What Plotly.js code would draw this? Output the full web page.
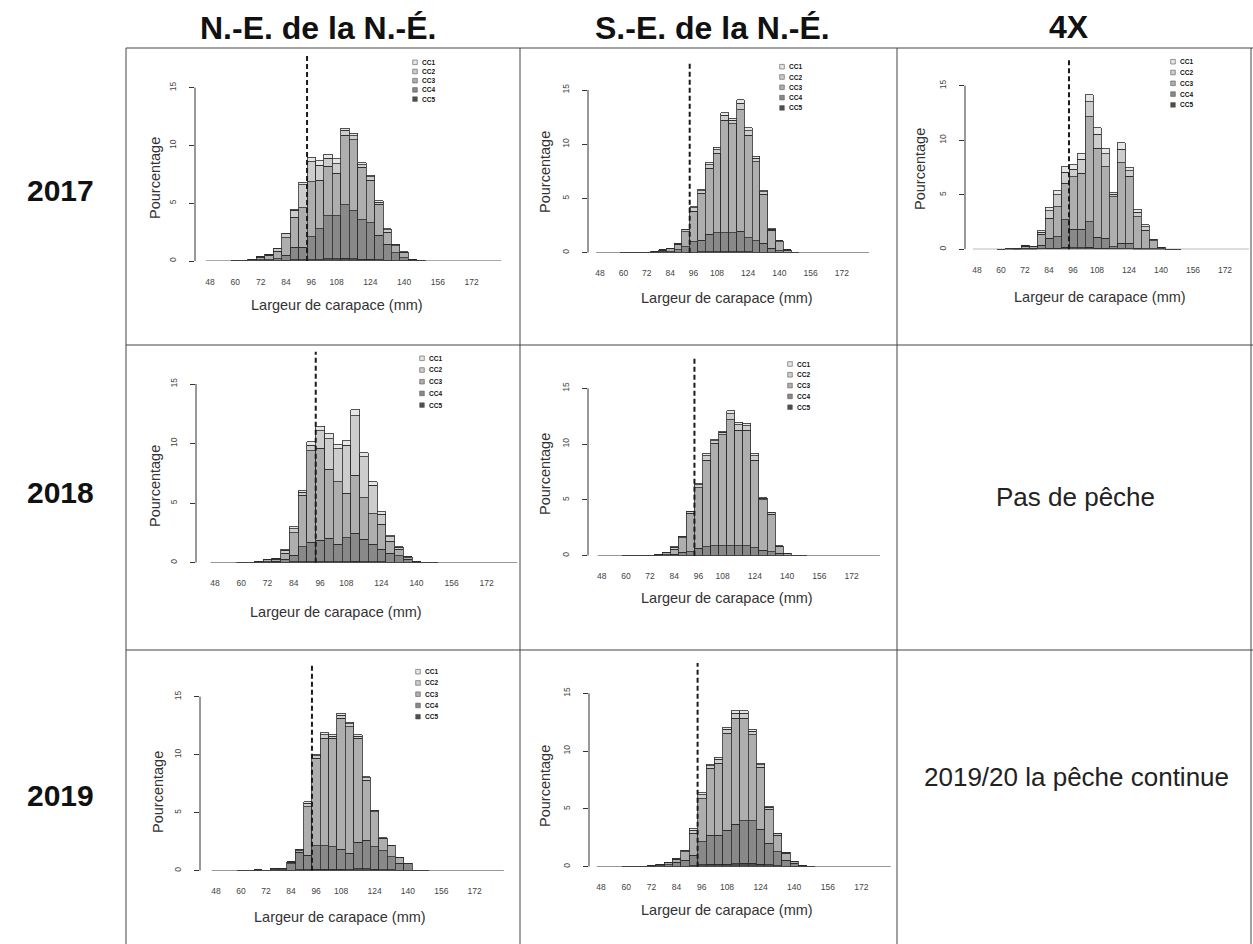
<!DOCTYPE html>
<html><head><meta charset="utf-8">
<script src="https://cdn.plot.ly/plotly-3.0.1.min.js"></script>
<style>html,body{margin:0;padding:0;background:#fff;} #chart{width:1253px;height:944px;}</style>
</head><body><div id="chart"></div>
<script>
// ---------- DATA ----------
// carapace width size classes (bin midpoints, mm) that carry bars
const sizes = [60,64,68,72,76,80,84,88,92,96,100,104,108,112,116,120,124,128,132,136,140,144,148];
// first and last size class of every histogram (empty classes drawn as a flat line)
const sizeRange = [48, 184];
const binWidth = 4;
const mlsLine = 94;          // dashed line (legal size boundary between classes)
const xTickLabels = [48,60,72,84,96,108,124,140,156,172];
const yTicks = [0,5,10,15];
const classNames = ['CC1','CC2','CC3','CC4','CC5'];
const classColors = ['#E6E6E6','#CDCDCD','#AEAEAE','#898989','#4D4D4D'];
const columnTitles = ['N.-E. de la N.-É.','S.-E. de la N.-É.','4X'];
const rowTitles = ['2017','2018','2019'];
const xTitle = 'Largeur de carapace (mm)';
const yTitle = 'Pourcentage';
const note2018 = 'Pas de pêche';
const note2019 = '2019/20 la pêche continue';

// N.-E. de la N.-É. 2017
const ne2017_cc1 = [0,0,0,0,0,0.02,0.05,0.1,0.2,0.37,0.38,0.36,0.4,0.2,0.2,0.15,0.15,0.1,0.1,0.05,0.03,0,0];
const ne2017_cc2 = [0.01,0.01,0.02,0.05,0.08,0.23,0.35,0.6,2.0,1.74,1.3,0.7,0.83,0.4,0.35,0.25,0.29,0.2,0.2,0.12,0.07,0.02,0];
const ne2017_cc3 = [0.03,0.05,0.1,0.23,0.38,0.65,1.5,2.6,3.4,4.75,4.2,4.3,3.7,6.05,6.14,4.55,3.7,2.65,1.03,0.58,0.4,0.08,0.05];
const ne2017_cc4 = [0.01,0.02,0.03,0.08,0.1,0.18,0.45,1.1,1.1,2.0,2.7,3.7,3.7,4.6,4.16,3.4,3.15,2.15,1.4,0.68,0.28,0.05,0.03];
const ne2017_cc5 = [0,0,0,0.02,0.02,0.02,0.05,0.1,0.1,0.1,0.1,0.2,0.2,0.25,0.2,0.15,0.15,0.1,0.07,0.04,0.02,0,0];
// S.-E. de la N.-É. 2017
const se2017_cc1 = [0,0,0,0,0,0,0,0.02,0.05,0.1,0.12,0.17,0.2,0.25,0.2,0.3,0.25,0.2,0.1,0.05,0.02,0,0];
const se2017_cc2 = [0,0,0,0,0.01,0.02,0.04,0.08,0.2,0.3,0.25,0.35,0.34,0.45,0.3,0.6,0.4,0.3,0.2,0.1,0.06,0.02,0];
const se2017_cc3 = [0,0,0.02,0.03,0.07,0.15,0.25,0.5,1.38,2.84,4.3,6.06,7.31,10.35,10.05,11.2,9.47,7.32,4.54,1.65,0.82,0.18,0.04];
const se2017_cc4 = [0,0,0.01,0.02,0.04,0.07,0.1,0.24,0.5,0.95,1.1,1.62,1.75,1.75,1.75,1.9,1.3,1.02,0.81,0.37,0.18,0.05,0.01];
const se2017_cc5 = [0,0,0,0,0,0.01,0.01,0.02,0.05,0.05,0.07,0.1,0.1,0.1,0.1,0.1,0.08,0.06,0.05,0.03,0.02,0,0];
// 4X 2017
const x4_2017_cc1 = [0,0,0,0,0,0.1,0.3,0.4,0.5,0.4,0.5,0.6,0.6,0.5,0.15,0.6,0.3,0.25,0.15,0.05,0,0,0];
const x4_2017_cc2 = [0,0,0,0.05,0.05,0.2,0.71,1.08,1.03,0.67,1.27,1.39,1.29,1.18,0.24,1.24,0.5,0.42,0.31,0.1,0.03,0,0];
const x4_2017_cc3 = [0,0.05,0.02,0.2,0.15,1.0,1.84,2.74,3.35,4.83,5.14,9.62,8.16,6.58,4.58,7.39,6.17,2.9,1.7,0.72,0.1,0,0];
const x4_2017_cc4 = [0,0.05,0.02,0.08,0.08,0.33,0.9,1.06,2.5,1.7,1.7,2.34,1.0,0.92,0.22,0.5,0.5,0.1,0.07,0.05,0.05,0,0];
const x4_2017_cc5 = [0,0,0,0.02,0.02,0.05,0.1,0.1,0.2,0.13,0.13,0.2,0.1,0.08,0.03,0.05,0.05,0,0,0,0,0,0];
// N.-E. de la N.-É. 2018
const ne2018_cc1 = [0,0,0,0,0,0.1,0.15,0.12,0.3,0.4,0.45,0.4,0.4,0.5,0.35,0.3,0.2,0.1,0.05,0.02,0,0,0];
const ne2018_cc2 = [0,0,0.02,0.03,0.05,0.27,0.35,0.25,0.48,1.47,2.55,2.76,4.02,4.96,3.43,2.41,0.86,0.35,0.15,0.05,0.01,0,0];
const ne2018_cc3 = [0.03,0.03,0.05,0.15,0.2,0.5,1.88,4.34,7.68,7.7,5.82,5.26,3.72,4.9,3.5,2.55,2.07,1.04,0.56,0.15,0.03,0,0];
const ne2018_cc4 = [0.02,0.02,0.03,0.08,0.09,0.25,0.58,1.24,1.6,1.8,1.94,1.44,2.0,2.33,1.86,1.44,1.08,0.73,0.55,0.26,0.04,0,0];
const ne2018_cc5 = [0,0,0,0.02,0.02,0.03,0.06,0.1,0.1,0.1,0.1,0.1,0.1,0.13,0.1,0.1,0.07,0.05,0.04,0.02,0,0,0];
// S.-E. de la N.-É. 2018
const se2018_cc1 = [0,0,0,0,0,0,0.05,0.05,0.08,0.13,0.2,0.12,0.12,0.27,0.23,0.2,0.2,0.07,0.05,0.02,0,0,0];
const se2018_cc2 = [0,0,0,0,0.01,0.02,0.15,0.11,0.12,0.25,0.4,0.24,0.23,0.54,0.46,0.4,0.4,0.13,0.1,0.05,0.02,0,0];
const se2018_cc3 = [0,0,0,0.02,0.07,0.2,0.45,1.3,3.44,5.44,7.77,9.2,9.95,11.29,10.39,10.36,7.85,4.5,3.37,0.6,0.14,0.03,0];
const se2018_cc4 = [0,0,0,0.01,0.04,0.07,0.14,0.28,0.33,0.62,0.75,0.82,0.82,0.82,0.82,0.85,0.68,0.47,0.33,0.18,0.04,0.02,0];
const se2018_cc5 = [0,0,0,0,0,0.01,0.01,0.02,0.03,0.04,0.05,0.05,0.05,0.05,0.05,0.05,0.04,0.03,0.03,0.02,0,0,0];
// N.-E. de la N.-É. 2019
const ne2019_cc1 = [0,0,0,0,0,0,0,0.05,0.15,0.13,0.17,0.1,0.14,0.13,0.1,0.1,0.05,0.03,0.02,0,0,0,0];
const ne2019_cc2 = [0,0,0,0,0.02,0.02,0.03,0.1,0.3,0.25,0.33,0.2,0.29,0.25,0.2,0.2,0.1,0.06,0.04,0.02,0,0,0];
const ne2019_cc3 = [0,0,0.05,0.03,0.08,0.08,0.15,0.12,4.15,7.55,9.27,9.33,11.26,10.92,8.96,5.16,3.01,1.05,0.95,0.48,0.03,0,0];
const ne2019_cc4 = [0,0,0.05,0.02,0.08,0.08,0.55,1.5,1.25,2.0,2.0,1.95,1.75,1.39,2.29,2.49,1.95,1.6,1.12,0.6,0.55,0,0];
const ne2019_cc5 = [0,0,0,0,0.02,0.02,0.05,0.1,0.1,0.13,0.13,0.12,0.12,0.1,0.15,0.15,0.12,0.1,0.08,0.05,0.05,0,0];
// S.-E. de la N.-É. 2019
const se2019_cc1 = [0,0,0,0,0,0,0.02,0.04,0.15,0.17,0.13,0.17,0.17,0.21,0.21,0.17,0.12,0.1,0.05,0.02,0.01,0,0];
const se2019_cc2 = [0,0,0,0.01,0.02,0.04,0.05,0.1,0.29,0.33,0.25,0.35,0.35,0.42,0.42,0.33,0.22,0.2,0.1,0.05,0.02,0,0];
const se2019_cc3 = [0,0.02,0.03,0.04,0.1,0.18,0.25,0.72,1.88,3.74,5.76,6.2,8.37,9.15,8.86,7.42,5.34,2.93,1.43,0.59,0.16,0.04,0];
const se2019_cc4 = [0,0.01,0.02,0.03,0.07,0.13,0.37,0.53,0.92,2.0,2.54,2.54,2.95,3.44,3.7,3.7,3.03,1.87,1.2,0.53,0.28,0.04,0];
const se2019_cc5 = [0,0,0,0,0.01,0.02,0.03,0.05,0.08,0.16,0.2,0.2,0.22,0.25,0.28,0.28,0.23,0.15,0.1,0.05,0.02,0,0];

// ---------- LAYOUT (pixel geometry of each panel) ----------
const W = 1253, H = 944;
const panels = [
  {cls:[ne2017_cc1,ne2017_cc2,ne2017_cc3,ne2017_cc4,ne2017_cc5], axisPx:195, p48:210, s:2.11, y0:261, y15:87.7, top:55, xt:[337,305], yt:[155,178], leg:[415,62.3,9.2]},
  {cls:[se2017_cc1,se2017_cc2,se2017_cc3,se2017_cc4,se2017_cc5], axisPx:588, p48:600, s:1.95, y0:252.7, y15:90, top:61.7, xt:[727,298], yt:[545,172], leg:[782,66.7,10.3]},
  {cls:[x4_2017_cc1,x4_2017_cc2,x4_2017_cc3,x4_2017_cc4,x4_2017_cc5], axisPx:965, p48:977, s:2.0, y0:249.3, y15:85.7, top:58, xt:[1100,296.7], yt:[920,169], leg:[1173,61.7,10.8]},
  {cls:[ne2018_cc1,ne2018_cc2,ne2018_cc3,ne2018_cc4,ne2018_cc5], axisPx:196, p48:215, s:2.19, y0:562.7, y15:384, top:351.7, xt:[336,611.7], yt:[155,486], leg:[422,358.3,11.7]},
  {cls:[se2018_cc1,se2018_cc2,se2018_cc3,se2018_cc4,se2018_cc5], axisPx:588, p48:601.7, s:2.016, y0:555.7, y15:388.3, top:358, xt:[727,598], yt:[545,474], leg:[790,364,10.8]},
  {cls:[ne2019_cc1,ne2019_cc2,ne2019_cc3,ne2019_cc4,ne2019_cc5], axisPx:200, p48:216, s:2.086, y0:870.7, y15:696.7, top:665, xt:[340,916.7], yt:[158,792], leg:[418,671.7,11.25]},
  {cls:[se2019_cc1,se2019_cc2,se2019_cc3,se2019_cc4,se2019_cc5], axisPx:589, p48:601, s:2.1, y0:866.7, y15:693.3, top:663, xt:[727,910], yt:[545,786], leg:null}
];
const gridCols = [126, 520, 897, 1251];
const gridRows = [48, 345, 650];
const colTitlePos = [[318,28],[712,28],[1069,27]];
const rowTitlePos = [[60,191],[60,492],[60,795]];

const FONT = 'Liberation Sans, Arial, sans-serif';
const px = v => v / W, py = v => 1 - v / H;

const traces = [], shapes = [], annotations = [];
const layout = {
  width: W, height: H, margin: {l:0, r:0, t:0, b:0},
  paper_bgcolor: '#fff', plot_bgcolor: 'rgba(0,0,0,0)',
  barmode: 'stack', bargap: 0, showlegend: false, hovermode: false,
  font: {family: FONT, color: '#222'}
};

panels.forEach((p, i) => {
  const n = i === 0 ? '' : String(i + 1);
  const xa = 'x' + n, ya = 'y' + n;
  const rightPx = Math.min(p.p48 + 140 * p.s, 1249);
  const xr0 = 48 - (p.p48 - p.axisPx) / p.s;
  const xr1 = 48 + (rightPx - p.p48) / p.s;
  const ytop = 15 * (p.y0 - p.top) / (p.y0 - p.y15);
  layout['xaxis' + n] = {
    domain: [p.axisPx / W, rightPx / W], range: [xr0, xr1], anchor: ya,
    showgrid: false, zeroline: false, showline: false, ticks: '',
    tickmode: 'array', tickvals: xTickLabels, ticktext: xTickLabels.map(String),
    tickfont: {size: 8.5, color: '#444', family: FONT}, ticklabelstandoff: 14, fixedrange: true
  };
  layout['yaxis' + n] = {
    domain: [1 - p.y0 / H, 1 - p.top / H], range: [0, ytop], anchor: xa,
    showgrid: false, zeroline: false, showline: false,
    ticks: 'outside', ticklen: 5, tickwidth: 1, tickcolor: '#333',
    tickmode: 'array', tickvals: yTicks, ticktext: yTicks.map(String), tickangle: -90,
    tickfont: {size: 8.5, color: '#444', family: FONT}, ticklabelstandoff: 10, fixedrange: true
  };
  // empty size classes drawn as flat baseline
  traces.push({type: 'scatter', mode: 'lines', x: [sizeRange[0] - binWidth / 2, sizeRange[1] + binWidth / 2], y: [0, 0],
    line: {color: '#555', width: 1}, xaxis: xa, yaxis: ya, hoverinfo: 'skip'});
  // stacked classes, CC5 at the bottom, CC1 on top
  for (let k = 4; k >= 0; k--) {
    traces.push({type: 'bar', name: classNames[k], x: sizes, y: p.cls[k], xaxis: xa, yaxis: ya,
      marker: {color: classColors[k], line: {color: '#2a2a2a', width: 0.8}}});
  }
  // y axis line (0 to 15 only, R style)
  shapes.push({type: 'line', xref: xa + ' domain', yref: ya, x0: 0, x1: 0, y0: yTicks[0], y1: yTicks[yTicks.length - 1],
    line: {color: '#333', width: 1}});
  // dashed vertical line
  shapes.push({type: 'line', xref: xa, yref: ya + ' domain', x0: mlsLine, x1: mlsLine, y0: 0, y1: 1,
    line: {color: '#1a1a1a', width: 2, dash: '5px,3px'}});
  // axis titles
  annotations.push({xref: 'paper', yref: 'paper', x: px(p.xt[0]), y: py(p.xt[1]), text: xTitle, showarrow: false,
    xanchor: 'center', yanchor: 'middle', font: {size: 14.5, color: '#333', family: FONT}});
  annotations.push({xref: 'paper', yref: 'paper', x: px(p.yt[0]), y: py(p.yt[1]), text: yTitle, showarrow: false,
    textangle: -90, xanchor: 'center', yanchor: 'middle', font: {size: 14.5, color: '#333', family: FONT}});
  // legend
  if (p.leg) {
    const [lx, ly, dy] = p.leg;
    classNames.forEach((c, k) => {
      const cy = ly + k * dy;
      shapes.push({type: 'rect', xref: 'paper', yref: 'paper', x0: px(lx - 2.3), x1: px(lx + 2.3), y0: py(cy + 2.3), y1: py(cy - 2.3),
        fillcolor: classColors[k], line: {color: '#555', width: 0.6}});
      annotations.push({xref: 'paper', yref: 'paper', x: px(lx + 5), y: py(cy), text: c, showarrow: false,
        xanchor: 'left', yanchor: 'middle', font: {size: 6.5, color: '#111', family: FONT, weight: 700}});
    });
  }
});

// table grid
gridCols.forEach(c => shapes.push({type: 'line', xref: 'paper', yref: 'paper', x0: px(c), x1: px(c), y0: py(gridRows[0]), y1: 0,
  line: {color: '#444', width: 1}}));
gridRows.forEach(r => shapes.push({type: 'line', xref: 'paper', yref: 'paper', x0: px(gridCols[0]), x1: 1, y0: py(r), y1: py(r),
  line: {color: '#444', width: 1}}));

// column and row titles
columnTitles.forEach((t, i) => annotations.push({xref: 'paper', yref: 'paper', x: px(colTitlePos[i][0]), y: py(colTitlePos[i][1]),
  text: t, showarrow: false, xanchor: 'center', yanchor: 'middle', font: {size: 32, weight: 700, color: '#111', family: FONT}}));
rowTitles.forEach((t, i) => annotations.push({xref: 'paper', yref: 'paper', x: px(rowTitlePos[i][0]), y: py(rowTitlePos[i][1]),
  text: t, showarrow: false, xanchor: 'center', yanchor: 'middle', font: {size: 30, weight: 700, color: '#111', family: FONT}}));
annotations.push({xref: 'paper', yref: 'paper', x: px(1075), y: py(497), text: note2018, showarrow: false,
  xanchor: 'center', yanchor: 'middle', font: {size: 26, color: '#222', family: FONT}});
annotations.push({xref: 'paper', yref: 'paper', x: px(1076), y: py(777), text: note2019, showarrow: false,
  xanchor: 'center', yanchor: 'middle', font: {size: 26, color: '#222', family: FONT}});

layout.shapes = shapes;
layout.annotations = annotations;
Plotly.newPlot('chart', traces, layout, {staticPlot: true, displayModeBar: false});
</script>
</body></html>
